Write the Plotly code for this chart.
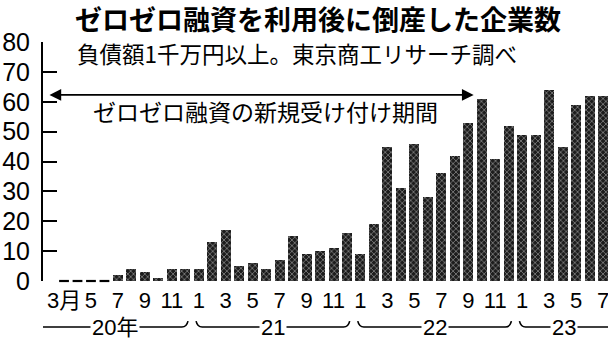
import plotly.graph_objects as go

# ---- data (Mar 2020 .. Jul 2023), number of bankruptcies per month ----
month_labels = ["3月", "5", "7", "9", "11", "1", "3", "5", "7", "9", "11",
                "1", "3", "5", "7", "9", "11", "1", "3", "5", "7"]
values_2020 = [0, 0, 0, 0, 2, 4, 3, 1, 4, 4]                       # Mar-Dec
values_2021 = [4, 13, 17, 5, 6, 4, 7, 15, 9, 10, 11, 16]           # Jan-Dec
values_2022 = [9, 19, 45, 31, 46, 28, 36, 42, 53, 61, 41, 52]      # Jan-Dec
values_2023 = [49, 49, 64, 45, 59, 62, 62]                         # Jan-Jul
year_labels = ["20年", "21", "22", "23"]
y_ticks = [0, 10, 20, 30, 40, 50, 60, 70, 80]

title_text = "ゼロゼロ融資を利用後に倒産した企業数"
subtitle_text = "負債額1千万円以上。東京商工リサーチ調べ"
period_text = "ゼロゼロ融資の新規受け付け期間"

values = values_2020 + values_2021 + values_2022 + values_2023
idx = list(range(len(values)))
year_groups = [values_2020, values_2021, values_2022, values_2023]

X0, X1 = -1.56, 40.37  # axis range (layout)

CJK = "Noto Sans CJK JP"
NUM = "Liberation Sans Narrow, Liberation Sans, Noto Sans CJK JP"

fig = go.Figure()
fig.add_trace(go.Bar(
    x=idx, y=values, width=0.74,
    marker=dict(color="#1c1c1c", line=dict(width=0),
                pattern=dict(shape="x", fgcolor="#cfcfcf", bgcolor="#1c1c1c",
                             size=4, solidity=0.22, fillmode="replace")),
    showlegend=False, hoverinfo="skip",
))
zx = [i for i, v in zip(idx, values) if v == 0]
zy = [v for v in values if v == 0]
fig.add_trace(go.Scatter(
    x=zx, y=zy, mode="markers",
    marker=dict(symbol="line-ew", size=7, line=dict(width=2.2, color="black")),
    showlegend=False, hoverinfo="skip", cliponaxis=False,
))

# year brackets
shapes = []
annotations = []
start = 0
ypx = -0.1925
yh = -0.168
for k, grp in enumerate(year_groups):
    s, e = start, start + len(grp) - 1
    start = e + 1
    xl = X0 if k == 0 else s - 0.5 + 0.3
    xr = X1 if k == len(year_groups) - 1 else e + 0.5 - 0.3
    path = ""
    if k == 0:
        path += f"M {xl},{ypx} "
    else:
        path += f"M {xl},{yh} Q {xl+0.1},{ypx} {xl+0.45},{ypx} "
    if k == len(year_groups) - 1:
        path += f"L {xr},{ypx}"
    else:
        path += f"L {xr-0.45},{ypx} Q {xr-0.1},{ypx} {xr},{yh}"
    shapes.append(dict(type="path", xref="x", yref="paper", path=path,
                       line=dict(color="black", width=1.6)))
    annotations.append(dict(x=(xl + xr) / 2, y=ypx, xref="x", yref="paper",
                            text=year_labels[k], showarrow=False, bgcolor="white",
                            font=dict(family=NUM, size=22, color="black"),
                            yanchor="middle", borderpad=1))

# subtitle
annotations.append(dict(x=(75 - 43) / 565, y=(281 - 53) / 239, xref="paper", yref="paper",
                        text=subtitle_text, showarrow=False, xanchor="left", yanchor="middle",
                        font=dict(family=CJK, size=22.5, color="black")))
# period arrow
annotations.append(dict(x=30.4, y=62.3, ax=-1.19, ay=62.3, xref="x", yref="y",
                        axref="x", ayref="y", text="", showarrow=True,
                        arrowside="end+start", arrowhead=2, arrowsize=1.3,
                        arrowwidth=1.8, arrowcolor="black"))
annotations.append(dict(x=(88 + 442) / 2 / 13.475 - 64 / 13.475, y=57.0, xref="x", yref="y",
                        text=period_text, showarrow=False, yanchor="middle",
                        font=dict(family=CJK, size=23, color="black")))

fig.update_layout(
    width=608, height=340,
    margin=dict(l=43, r=0, t=42, b=59),
    paper_bgcolor="white", plot_bgcolor="white",
    title=dict(text="<b>" + title_text + "</b>", xref="container", yref="container",
               x=75 / 608, xanchor="left", y=1 - 21 / 340, yanchor="middle",
               font=dict(family=CJK, size=27, color="black")),
    shapes=shapes, annotations=annotations,
    bargap=0,
)
fig.update_xaxes(range=[X0, X1], showgrid=False, zeroline=False, showline=False,
                 tickvals=idx[::2], ticktext=month_labels, ticks="",
                 tickangle=0, ticklabelstandoff=4, ticklabeloverflow="allow",
                 tickfont=dict(family=NUM, size=22, color="black"))
fig.update_yaxes(range=[0, 80], showgrid=False, zeroline=False, showline=True,
                 linecolor="black", linewidth=2, tickvals=y_ticks,
                 ticks="inside", ticklen=14, tickwidth=1.5, tickcolor="black",
                 ticklabelstandoff=6,
                 tickfont=dict(family=NUM, size=25, color="black"))

fig.write_html("out.html")
